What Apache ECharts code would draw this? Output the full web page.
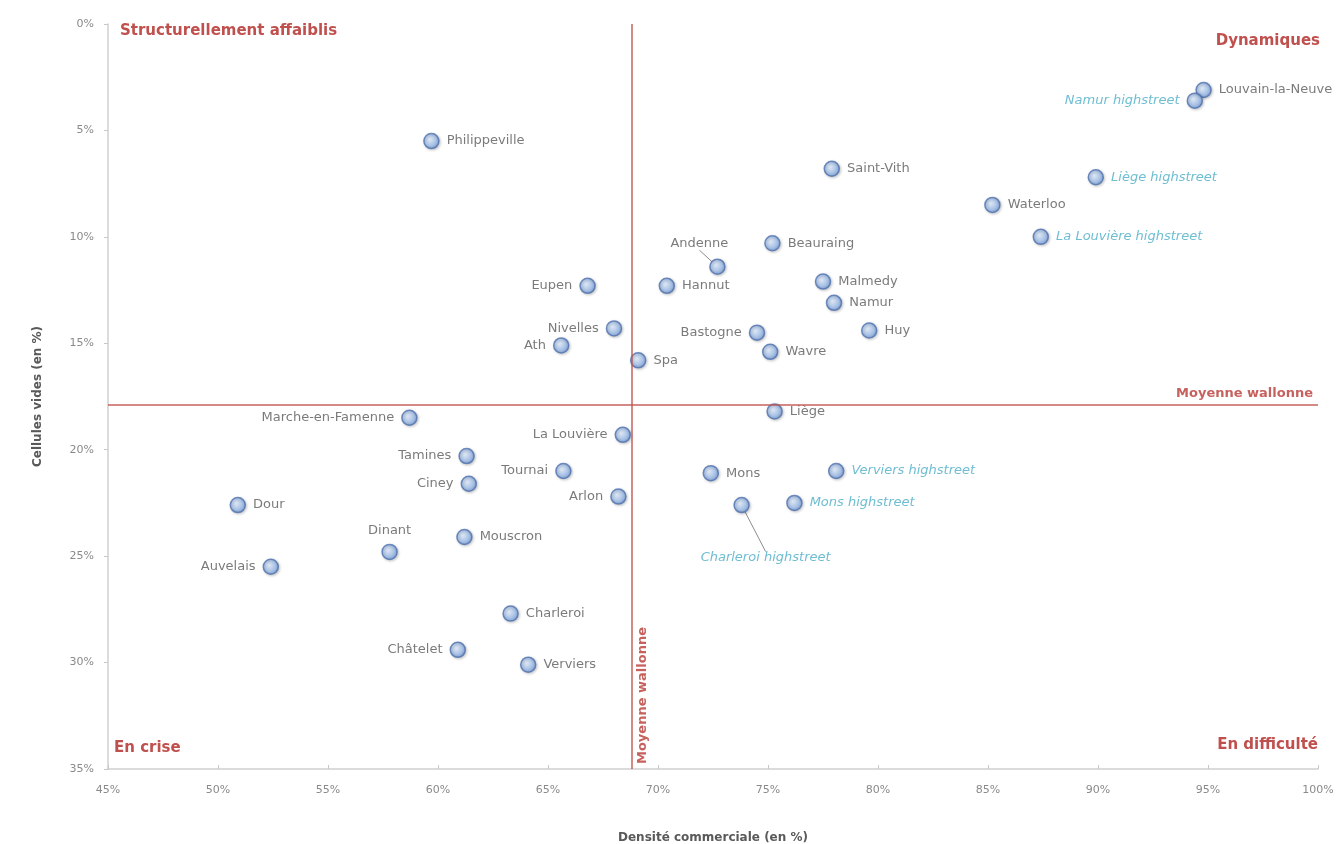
<!DOCTYPE html>
<html>
<head>
<meta charset="utf-8">
<script src="https://cdn.jsdelivr.net/npm/echarts@6/dist/echarts.min.js"></script>
<style>
  html, body { margin: 0; padding: 0; background: #fff; }
  #chart { width: 1338px; height: 844px; }
</style>
</head>
<body>
<div id="chart"></div>
<script>
// villes (densité commerciale %, cellules vides %)
const townNames = ['Philippeville', 'Saint-Vith', 'Louvain-la-Neuve', 'Waterloo', 'Beauraing', 'Andenne',
  'Malmedy', 'Eupen', 'Hannut', 'Namur', 'Nivelles', 'Bastogne', 'Huy', 'Ath', 'Wavre', 'Spa',
  'Marche-en-Famenne', 'Liège', 'La Louvière', 'Tamines', 'Tournai', 'Mons', 'Ciney', 'Arlon',
  'Dour', 'Dinant', 'Mouscron', 'Auvelais', 'Charleroi', 'Châtelet', 'Verviers']
const townDensity = [59.7, 77.9, 94.8, 85.2, 75.2, 72.7,
  77.5, 66.8, 70.4, 78.0, 68.0, 74.5, 79.6, 65.6, 75.1, 69.1,
  58.7, 75.3, 68.4, 61.3, 65.7, 72.4, 61.4, 68.2,
  50.9, 57.8, 61.2, 52.4, 63.3, 60.9, 64.1]
const townVacancy = [5.5, 6.8, 3.1, 8.5, 10.3, 11.4,
  12.1, 12.3, 12.3, 13.1, 14.3, 14.5, 14.4, 15.1, 15.4, 15.8,
  18.5, 18.2, 19.3, 20.3, 21.0, 21.1, 21.6, 22.2,
  22.6, 24.8, 24.1, 25.5, 27.7, 29.4, 30.1]

// artères principales
const streetNames = ['Namur highstreet', 'Liège highstreet', 'La Louvière highstreet',
  'Verviers highstreet', 'Mons highstreet', 'Charleroi highstreet']
const streetDensity = [94.4, 89.9, 87.4, 78.1, 76.2, 73.8]
const streetVacancy = [3.6, 7.2, 10.0, 21.0, 22.5, 22.6]

// moyennes wallonnes
const avgDensity = 68.8
const avgVacancy = 17.9

const xTicks = [45, 100, 5]
const yTicks = [0, 35, 5]

// placement des étiquettes
const labelPos = {
  'Namur highstreet': { position: 'left' },
  'Eupen': { position: 'left' },
  'Nivelles': { position: 'left' },
  'Bastogne': { position: 'left' },
  'Ath': { position: 'left', offset: [0, 8] },
  'Wavre': { offset: [0, 4] },
  'Spa': { offset: [0, 7] },
  'Marche-en-Famenne': { position: 'left' },
  'Liège': { offset: [6, 12] },
  'La Louvière': { position: 'left' },
  'Tamines': { position: 'left', offset: [0, -3] },
  'Tournai': { position: 'left', offset: [-4, 15] },
  'Mons': { offset: [4, -14] },
  'Ciney': { position: 'left', offset: [-6, 0] },
  'Arlon': { position: 'left' },
  'Mons highstreet': { offset: [0, 5] },
  'Dinant': { position: 'top', offset: [18, -10] },
  'Auvelais': { position: 'left' },
  'Châtelet': { position: 'left' }
}
const leaderShift = {
  'Andenne': [-18, -23],
  'Charleroi highstreet': [24, 53]
}

const red = '#c0504d'
const labelGray = '#595959'
const aqua = '#4bacc6'
const font = '"DejaVu Sans", sans-serif'

const marker = {
  color: new echarts.graphic.RadialGradient(0.4, 0.4, 0.6, [
    { offset: 0, color: '#e3eefc' },
    { offset: 0.6, color: '#a3c2ee' },
    { offset: 1, color: '#7499d4' }
  ]),
  borderColor: '#4f72b0',
  borderWidth: 1.5,
  shadowColor: 'rgba(0,0,0,0.25)',
  shadowBlur: 3,
  shadowOffsetX: 1,
  shadowOffsetY: 1
}

function buildData(names, xs, ys) {
  return names.map((n, i) => {
    const item = { name: n, value: [xs[i], ys[i]] }
    const p = labelPos[n]
    if (p) item.label = Object.assign({}, p)
    if (leaderShift[n]) {
      item.label = { position: 'inside' }
      item.labelLine = { show: true }
    }
    return item
  })
}

const townData = buildData(townNames, townDensity, townVacancy)
const streetData = buildData(streetNames, streetDensity, streetVacancy)

function leaderLayout(seriesData) {
  return function (params) {
    const n = seriesData[params.dataIndex].name
    const s = leaderShift[n]
    if (s) return { dx: s[0], dy: s[1] }
    return {}
  }
}

const chart = echarts.init(document.getElementById('chart'))

const option = {
  animation: false,
  textStyle: { fontFamily: font },
  grid: { left: 108, right: 20, top: 24, bottom: 75, outerBoundsMode: 'none' },
  xAxis: {
    type: 'value',
    position: 'bottom',
    min: xTicks[0], max: xTicks[1], interval: xTicks[2],
    name: 'Densité commerciale (en %)',
    nameLocation: 'middle',
    nameGap: 63,
    nameTextStyle: { color: labelGray, fontSize: 12, fontWeight: 'bold' },
    axisLine: { onZero: false, lineStyle: { color: '#d0d0d0', width: 1.5 } },
    axisTick: { show: true, length: 4, inside: true, lineStyle: { color: '#c8c8c8' } },
    splitLine: { show: false },
    axisLabel: { color: '#8a8a8a', fontSize: 11, margin: 16, formatter: '{value}%' }
  },
  yAxis: {
    type: 'value',
    inverse: true,
    min: yTicks[0], max: yTicks[1], interval: yTicks[2],
    name: 'Cellules vides (en %)',
    nameLocation: 'middle',
    nameGap: 64,
    nameTextStyle: { color: labelGray, fontSize: 12, fontWeight: 'bold' },
    axisLine: { show: true, onZero: false, lineStyle: { color: '#d0d0d0', width: 1.5 } },
    axisTick: { show: true, length: 4, lineStyle: { color: '#c8c8c8' } },
    splitLine: { show: false },
    axisLabel: { color: '#8a8a8a', fontSize: 11, margin: 14, formatter: '{value}%' }
  },
  graphic: [
    { type: 'text', left: 120, top: 24, style: { text: 'Structurellement affaiblis', fill: red, font: 'bold 15px ' + font } },
    { type: 'text', right: 18, top: 34, style: { text: 'Dynamiques', fill: red, font: 'bold 15px ' + font } },
    { type: 'text', left: 114, top: 741, style: { text: 'En crise', fill: red, font: 'bold 15px ' + font } },
    { type: 'text', right: 20, top: 738, style: { text: 'En difficulté', fill: red, font: 'bold 15px ' + font } }
  ],
  series: [
    {
      name: 'Villes',
      type: 'scatter',
      symbolSize: 15,
      itemStyle: marker,
      data: townData,
      label: {
        show: true,
        formatter: '{b}',
        position: 'right',
        distance: 7,
        color: labelGray,
        fontSize: 13
      },
      labelLine: { show: false, lineStyle: { color: '#8c8c8c', width: 1 } },
      labelLayout: leaderLayout(townData),
      markLine: {
        silent: true,
        symbol: 'none',
        lineStyle: { color: red, type: 'solid', width: 1.5, opacity: 0.9 },
        data: [
          [
            { coord: [avgDensity, yTicks[1]], label: { formatter: 'Moyenne wallonne', position: 'insideStartBottom', color: red, fontSize: 13, fontWeight: 'bold' } },
            { coord: [avgDensity, yTicks[0]] }
          ],
          {
            yAxis: avgVacancy,
            label: { formatter: 'Moyenne wallonne', position: 'insideEndTop', color: red, fontSize: 13, fontWeight: 'bold' }
          }
        ]
      }
    },
    {
      name: 'Highstreets',
      type: 'scatter',
      symbolSize: 15,
      itemStyle: marker,
      data: streetData,
      label: {
        show: true,
        formatter: '{b}',
        position: 'right',
        distance: 7,
        color: aqua,
        fontStyle: 'italic',
        fontSize: 13
      },
      labelLine: { show: false, lineStyle: { color: '#8c8c8c', width: 1 } },
      labelLayout: leaderLayout(streetData)
    }
  ]
}

chart.setOption(option)
</script>
</body>
</html>
